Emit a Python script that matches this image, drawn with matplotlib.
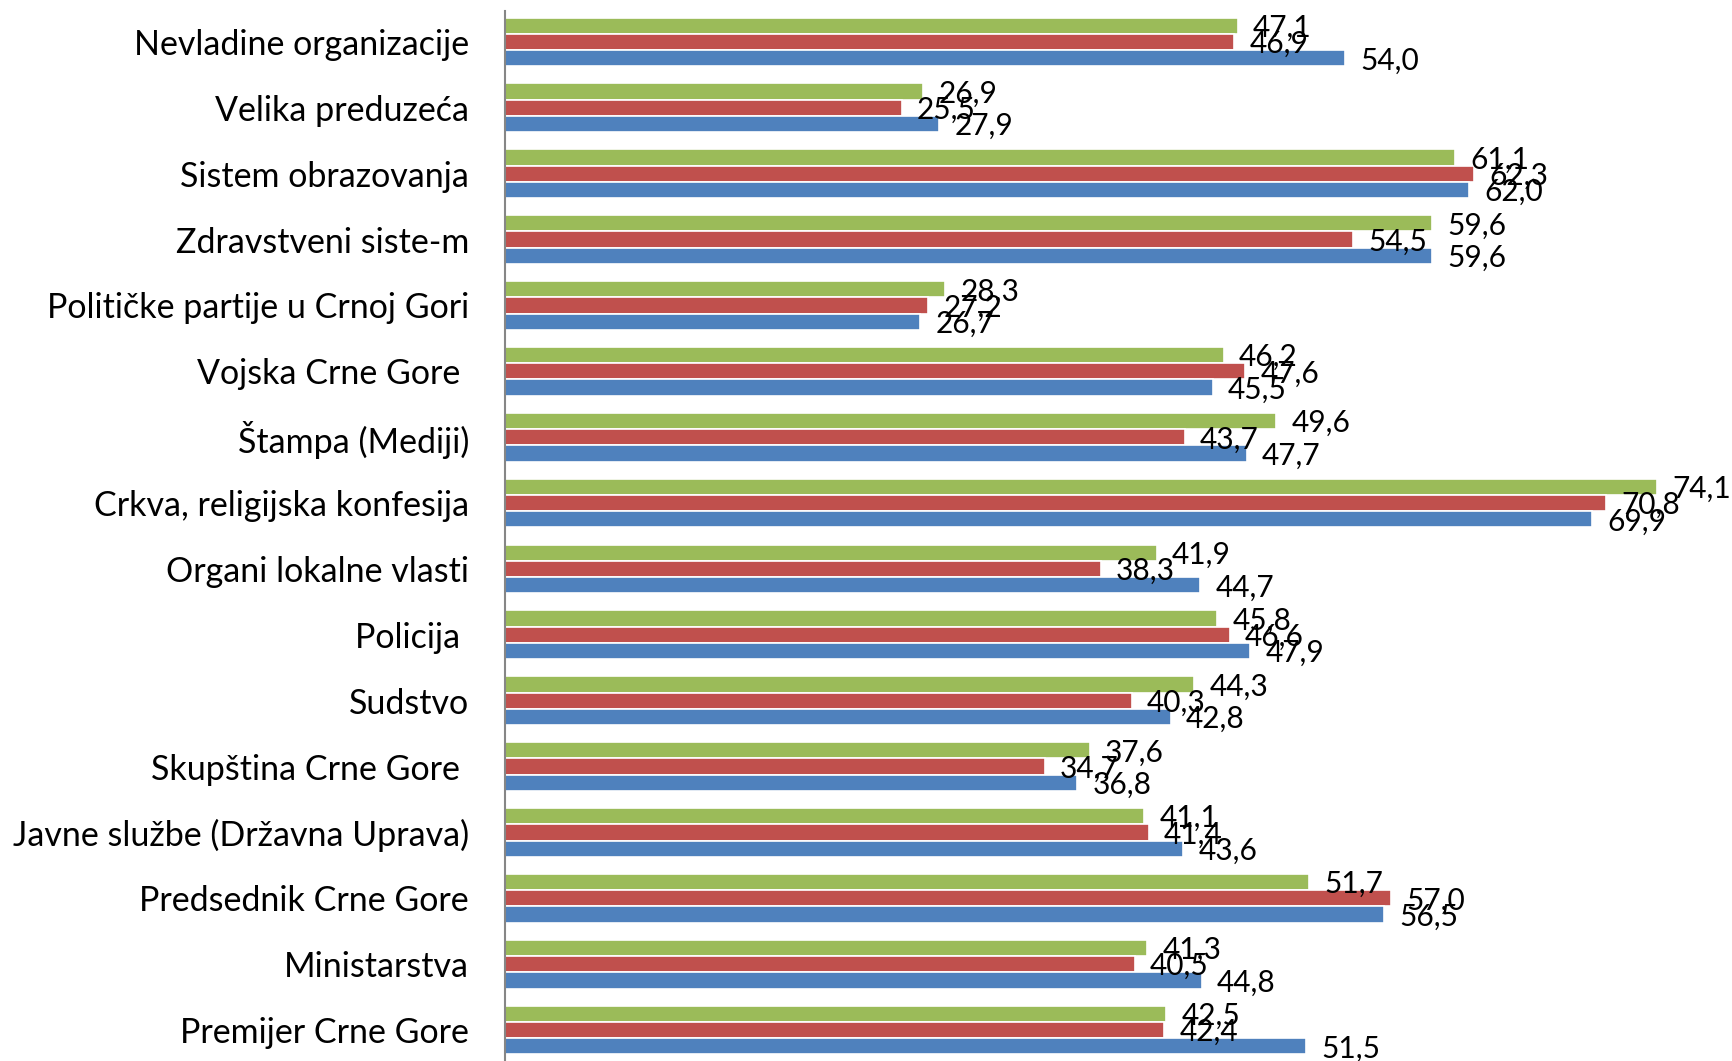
import numpy as np
import matplotlib.pyplot as plt

categories = [
    "Nevladine organizacije",
    "Velika preduzeća",
    "Sistem obrazovanja",
    "Zdravstveni siste-m",
    "Političke partije u Crnoj Gori",
    "Vojska Crne Gore ",
    "Štampa (Mediji)",
    "Crkva, religijska konfesija",
    "Organi lokalne vlasti",
    "Policija ",
    "Sudstvo",
    "Skupština Crne Gore ",
    "Javne službe (Državna Uprava)",
    "Predsednik Crne Gore",
    "Ministarstva",
    "Premijer Crne Gore",
]
green = [47.1, 26.9, 61.1, 59.6, 28.3, 46.2, 49.6, 74.1, 41.9, 45.8, 44.3, 37.6, 41.1, 51.7, 41.3, 42.5]
red = [46.9, 25.5, 62.3, 54.5, 27.2, 47.6, 43.7, 70.8, 38.3, 46.6, 40.3, 34.7, 41.4, 57.0, 40.5, 42.4]
blue = [54.0, 27.9, 62.0, 59.6, 26.7, 45.5, 47.7, 69.9, 44.7, 47.9, 42.8, 36.8, 43.6, 56.5, 44.8, 51.5]

plt.rcParams["font.family"] = ["Lato", "DejaVu Sans"]

fig = plt.figure(figsize=(17.33, 10.61), dpi=100)
ax = fig.add_axes([0.2914, 0.0, 0.70, 0.9896])

y = np.arange(len(categories))
h = 0.247
series = [(green, "#9BBB59", -h), (red, "#C0504D", 0.0), (blue, "#4F81BD", h)]
for vals, col, off in series:
    bars = ax.barh(y + off, vals, height=h, color=col, edgecolor="white", linewidth=1.2)
    for b, v in zip(bars, vals):
        ax.annotate(f"{v:.1f}".replace(".", ","),
                    (b.get_width(), b.get_y() + b.get_height() / 2),
                    xytext=(11, -1.5), textcoords="offset points",
                    ha="left", va="center", fontsize=21.5, color="black")

ax.set_xlim(0, 78)
ax.set_ylim(len(categories) - 0.53, -0.47)
ax.set_yticks(y)
ax.set_yticklabels(categories, fontsize=24.5)
ax.tick_params(axis="y", length=0, pad=26)
ax.set_xticks([])
for s in ["top", "right", "bottom"]:
    ax.spines[s].set_visible(False)
ax.spines["left"].set_color("#868686")
ax.spines["left"].set_linewidth(1.5)

fig.savefig("out.png", dpi=100)
